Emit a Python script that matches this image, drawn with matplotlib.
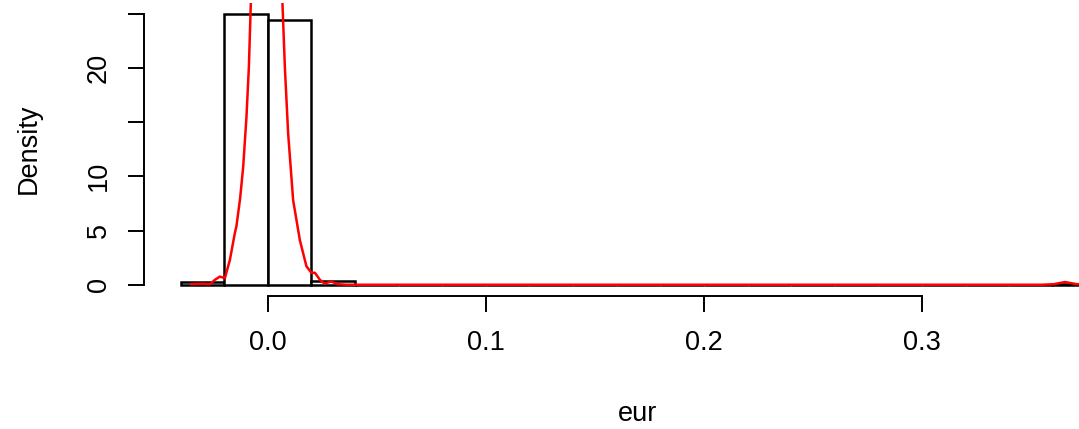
import numpy as np
import matplotlib.pyplot as plt

plt.rcParams['font.family'] = ['Liberation Sans', 'DejaVu Sans']

# histogram of eur (bin width 0.02, density scale)
breaks = np.round(np.arange(-0.04, 0.38 + 0.001, 0.02), 2)
heights = [0.25, 24.95, 24.45, 0.3] + [0.0] * 16 + [0.05]

# kernel density estimate of eur
dens_x = [-0.0351, -0.030, -0.0265, -0.0243, -0.022, -0.0197, -0.0174, -0.0151,
          -0.0144, -0.0127, -0.0113, -0.0098, -0.0087, -0.0078, -0.006, -0.004,
          -0.002, -0.0005, 0.001, 0.003, 0.005, 0.0067, 0.0078, 0.0093, 0.0116,
          0.0147, 0.0177, 0.020, 0.0216, 0.0239, 0.026, 0.029, 0.032, 0.036,
          0.10, 0.20, 0.30, 0.355, 0.3605, 0.3656, 0.371, 0.376]
dens_y = [0.05, 0.1, 0.05, 0.45, 0.75, 0.6, 2.3, 4.8,
          5.4, 8.0, 10.9, 15.5, 20.1, 26, 34, 40,
          43.5, 44.5, 43.5, 39, 32, 26, 20.1, 14, 7.8,
          4.1, 1.7, 1.1, 1.1, 0.45, 0.1, 0.3, 0.05, 0.0,
          0, 0, 0, 0, 0.05, 0.25, 0.05, 0]

fs = 19.5

fig = plt.figure(figsize=(10.79, 4.29), dpi=100)
ax = fig.add_axes([144 / 1079, 133 / 429, 989 / 1079, 293 / 429])

ax.bar(breaks[:-1], heights, width=0.02, align='edge', facecolor='white',
       edgecolor='black', linewidth=1.8)
ax.plot(dens_x, dens_y, color='red', linewidth=1.8)

ax.set_xlim(-0.0568, 0.3968)
ax.set_ylim(-1.04, 26.0)

for s in ['top', 'right']:
    ax.spines[s].set_visible(False)
ax.spines['left'].set_bounds(0, 25)
ax.spines['bottom'].set_bounds(0, 0.3)
ax.spines['left'].set_linewidth(1.4)
ax.spines['bottom'].set_linewidth(1.4)

ax.set_xticks([0.0, 0.1, 0.2, 0.3])
ax.set_xticklabels(['0.0', '0.1', '0.2', '0.3'])
ax.set_yticks([0, 5, 10, 15, 20, 25])
ax.set_yticklabels(['0', '5', '10', '', '20', ''], rotation=90, va='center')
ax.tick_params(axis='both', length=11.5, width=1.4, labelsize=fs)
ax.tick_params(axis='x', pad=13)
ax.tick_params(axis='y', pad=11.5)

fig.text(638 / 1079, 1 - 421 / 429, 'eur', ha='center', va='baseline', fontsize=fs)
fig.text(29 / 1079, 1 - 149 / 429, 'Density', ha='center', va='center',
         rotation=90, fontsize=fs)

fig.savefig('out.png', dpi=100)
